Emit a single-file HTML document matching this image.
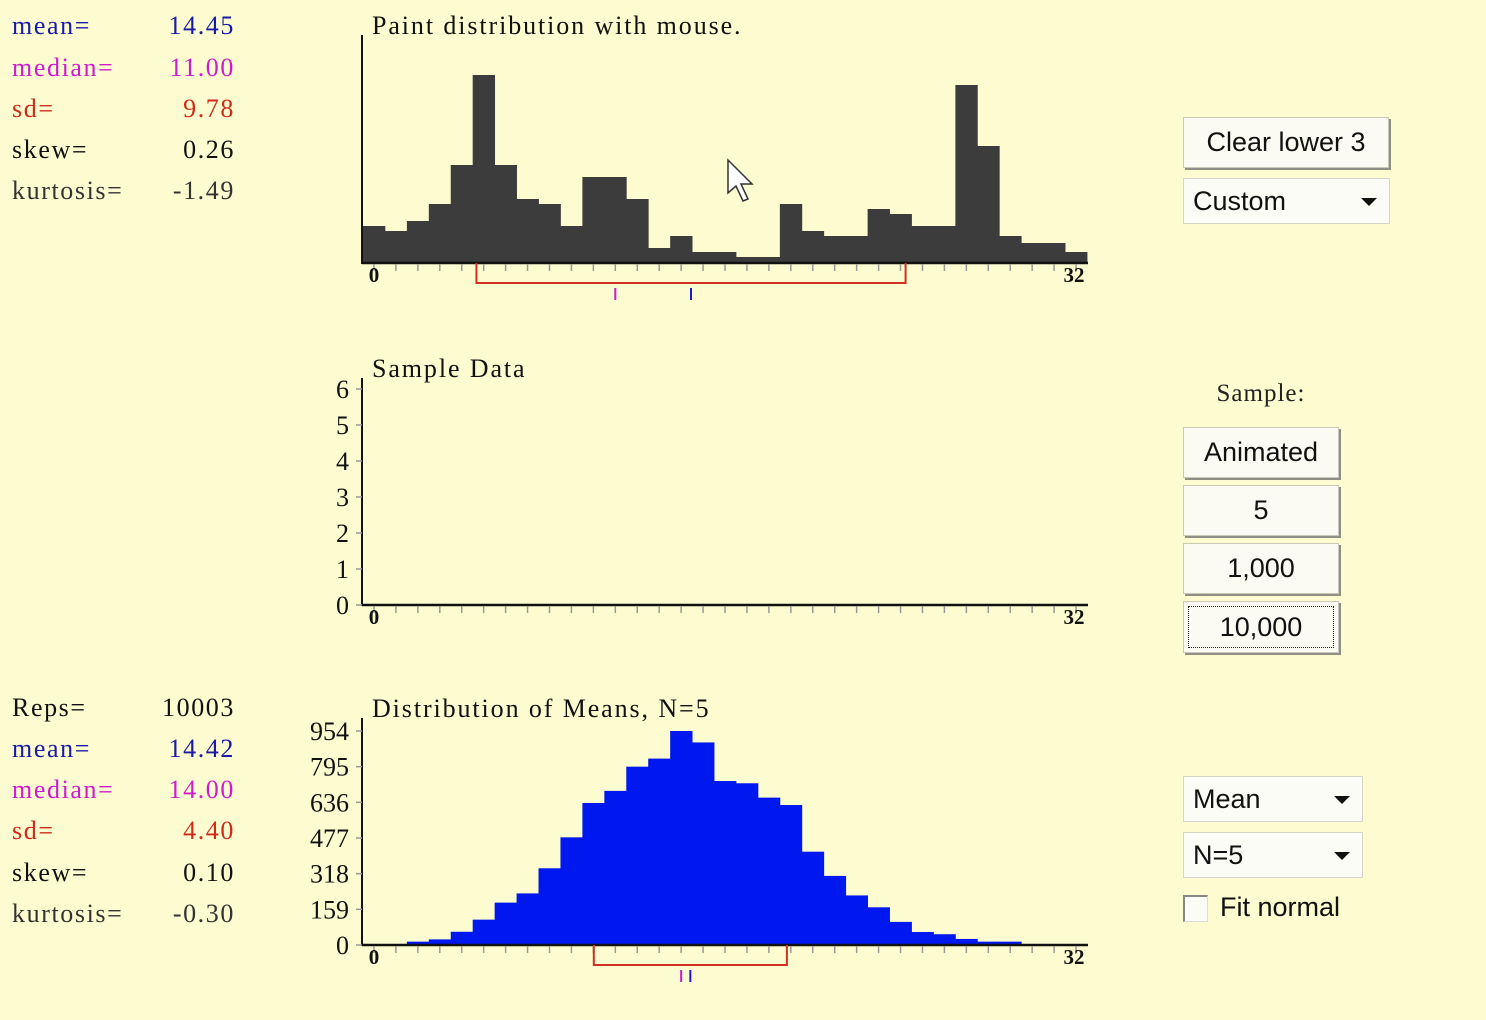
<!DOCTYPE html>
<html><head><meta charset="utf-8">
<style>
body{margin:0;width:1486px;height:1020px;background:#fdfcd0;overflow:hidden;position:relative;font-family:"Liberation Serif",serif}
.st{position:absolute;font-size:26px;line-height:30px;letter-spacing:1.6px}
.lab{left:12px}.val{right:1251px;text-align:right}
.btn{position:absolute;background:#fbfbf3;border:1px solid #c9c9b8;box-shadow:2px 2px 0 #8f8f86;font-family:"Liberation Sans",sans-serif;font-size:27px;color:#111;display:flex;align-items:center;justify-content:center;box-sizing:border-box}
.dd{position:absolute;background:#fcfcf6;border:1px solid #d6d6c8;font-family:"Liberation Sans",sans-serif;font-size:27px;color:#111;display:flex;align-items:center;padding-left:9px;box-sizing:border-box}
.dd::after{content:"";position:absolute;right:12px;top:50%;margin-top:-3px;border-left:8px solid transparent;border-right:8px solid transparent;border-top:8px solid #111}
svg{position:absolute;left:0;top:0}
</style></head><body>
<div class="st lab" style="top:11px;color:#1a1aa8">mean=</div>
<div class="st val" style="top:11px;color:#1a1aa8">14.45</div>
<div class="st lab" style="top:53px;color:#d01ad0">median=</div>
<div class="st val" style="top:53px;color:#d01ad0">11.00</div>
<div class="st lab" style="top:94px;color:#d02a1a">sd=</div>
<div class="st val" style="top:94px;color:#d02a1a">9.78</div>
<div class="st lab" style="top:135px;color:#111">skew=</div>
<div class="st val" style="top:135px;color:#111">0.26</div>
<div class="st lab" style="top:176px;color:#333">kurtosis=</div>
<div class="st val" style="top:176px;color:#333">-1.49</div>

<div class="st lab" style="top:693px;color:#111">Reps=</div>
<div class="st val" style="top:693px;color:#111">10003</div>
<div class="st lab" style="top:734px;color:#1a1aa8">mean=</div>
<div class="st val" style="top:734px;color:#1a1aa8">14.42</div>
<div class="st lab" style="top:775px;color:#d01ad0">median=</div>
<div class="st val" style="top:775px;color:#d01ad0">14.00</div>
<div class="st lab" style="top:816px;color:#d02a1a">sd=</div>
<div class="st val" style="top:816px;color:#d02a1a">4.40</div>
<div class="st lab" style="top:858px;color:#111">skew=</div>
<div class="st val" style="top:858px;color:#111">0.10</div>
<div class="st lab" style="top:899px;color:#333">kurtosis=</div>
<div class="st val" style="top:899px;color:#333">-0.30</div>

<svg id="chart" width="1486" height="1020"></svg>

<div class="btn" style="left:1183px;top:117px;width:206px;height:51px">Clear lower 3</div>
<div class="dd" style="left:1183px;top:178px;width:207px;height:46px">Custom</div>
<div class="st" style="left:1183px;width:156px;text-align:center;top:379px;color:#222;font-size:25px;letter-spacing:1px">Sample:</div>
<div class="btn" style="left:1183px;top:427px;width:156px;height:51px">Animated</div>
<div class="btn" style="left:1183px;top:485px;width:156px;height:51px">5</div>
<div class="btn" style="left:1183px;top:543px;width:156px;height:51px">1,000</div>
<div class="btn" style="left:1183px;top:601px;width:156px;height:52px;outline:1px dotted #222;outline-offset:-6px">10,000</div>
<div class="dd" style="left:1183px;top:776px;width:180px;height:46px">Mean</div>
<div class="dd" style="left:1183px;top:832px;width:180px;height:46px">N=5</div>
<div style="position:absolute;left:1183px;top:895px;width:22px;height:24px;background:#fcfcf6;border-top:2px solid #888;border-left:2px solid #888;border-right:1px solid #ddd;border-bottom:1px solid #ddd"></div>
<div style="position:absolute;left:1220px;top:892px;font-family:'Liberation Sans',sans-serif;font-size:27px;color:#111">Fit normal</div>

<script>
const binCount = 33;
const paintValues = [37,32,42,59,98,188,98,64,59,37,86,86,64,15,27,11,11,6,6,59,32,27,27,54,49,37,37,178,117,27,20,20,11];
const sampleValues = [];
const meanValues = [0,0,15,25,59,113,189,230,342,480,633,687,795,831,954,903,731,721,657,624,416,308,221,168,103,58,48,27,15,15,0,0,0];
const sampleTicks = [0,1,2,3,4,5,6];
const meanTicks = [0,159,318,477,636,795,954];
const paintStats = {mean:14.45, median:11.00, sd:9.78};
const meansStats = {mean:14.42, median:14.00, sd:4.40};

const svg = document.getElementById('chart');
const NS = 'http://www.w3.org/2000/svg';
const X0 = 363, BW = 21.94;
function xScale(v){ return X0 + v*BW; }
function mk(tag, attrs, parent){ const e=document.createElementNS(NS,tag); for(const k in attrs) e.setAttribute(k,attrs[k]); (parent||svg).appendChild(e); return e; }

function drawPanel(name, base, top, title, values, yMaxPx, yMaxVal, ticks, color, stats){
  const g = mk('g',{});
  
  
  const ys = v => base - v/yMaxVal*yMaxPx;
  values.forEach((v,i)=>{
    if(v<=0) return;
    const r = mk('rect',{x:xScale(i),y:ys(v),width:BW+0.4,height:base-ys(v),fill:color},g);
    
    
  });
  const ya = mk('line',{x1:362,y1:top,x2:362,y2:base+1,stroke:'#111','stroke-width':2},g);
  
  
  const xa = mk('line',{x1:362,y1:base,x2:1088,y2:base,stroke:'#111','stroke-width':2.5},g);
  
  
  for(let i=0;i<binCount;i++){
    const t = mk('line',{x1:xScale(i+0.5),y1:base+1,x2:xScale(i+0.5),y2:base+8,stroke:'#999','stroke-width':1.5},g);
    
    
  }
  const l0 = mk('text',{x:xScale(0.5),y:base+19,'font-size':21,'font-weight':'bold','text-anchor':'middle',fill:'#111','font-family':'Liberation Serif, serif'},g);
  l0.textContent='0';
  
  
  const l1 = mk('text',{x:xScale(32.5)-2,y:base+19,'font-size':21,'font-weight':'bold','text-anchor':'middle',fill:'#111','font-family':'Liberation Serif, serif'},g);
  l1.textContent='32';
  
  
  const tt = mk('text',{x:372,y:top-1,'font-size':26,fill:'#111','font-family':'Liberation Serif, serif','letter-spacing':'1.9'},g);
  tt.textContent=title;
  
  
  ticks.forEach(v=>{
    const y = ys(v);
    const tk = mk('line',{x1:356,y1:y,x2:362,y2:y,stroke:'#999','stroke-width':1.5},g);
    
    
    const tl = mk('text',{x:349,y:y+9,'font-size':26,'text-anchor':'end',fill:'#111','font-family':'Liberation Serif, serif','letter-spacing':'0'},g);
    tl.textContent = String(v);
    
    
  });
  if(stats){
    const bx1 = xScale(stats.mean-stats.sd+0.5), bx2 = xScale(stats.mean+stats.sd+0.5);
    const br = mk('polyline',{points:`${bx1},${base} ${bx1},${base+20} ${bx2},${base+20} ${bx2},${base}`,fill:'none',stroke:'#d03020','stroke-width':2},g);
    
    
    const mdx = xScale(stats.median+0.5), mnx = xScale(stats.mean+0.5);
    const md = mk('line',{x1:mdx,y1:base+25,x2:mdx,y2:base+37,stroke:'#d01ad0','stroke-width':2},g);
    
    
    const mn = mk('line',{x1:mnx,y1:base+25,x2:mnx,y2:base+37,stroke:'#1a1ad0','stroke-width':2},g);
    
    
  }
}
drawPanel('paint', 263, 35, 'Paint distribution with mouse.', paintValues, 188, 188, [], '#3c3c3c', paintStats);
drawPanel('sample', 605, 378, 'Sample Data', sampleValues, 216, 6, sampleTicks, '#3c3c3c', null);
drawPanel('means', 945, 718, 'Distribution of Means, N=5', meanValues, 214, 954, meanTicks, '#0018f0', meansStats);
const cur = mk('polygon',{points:'728,160 728,193 736,186 743,201 748,199 741,184 752,184',fill:'#fff',stroke:'#333','stroke-width':1.5});


</script>
</body></html>
